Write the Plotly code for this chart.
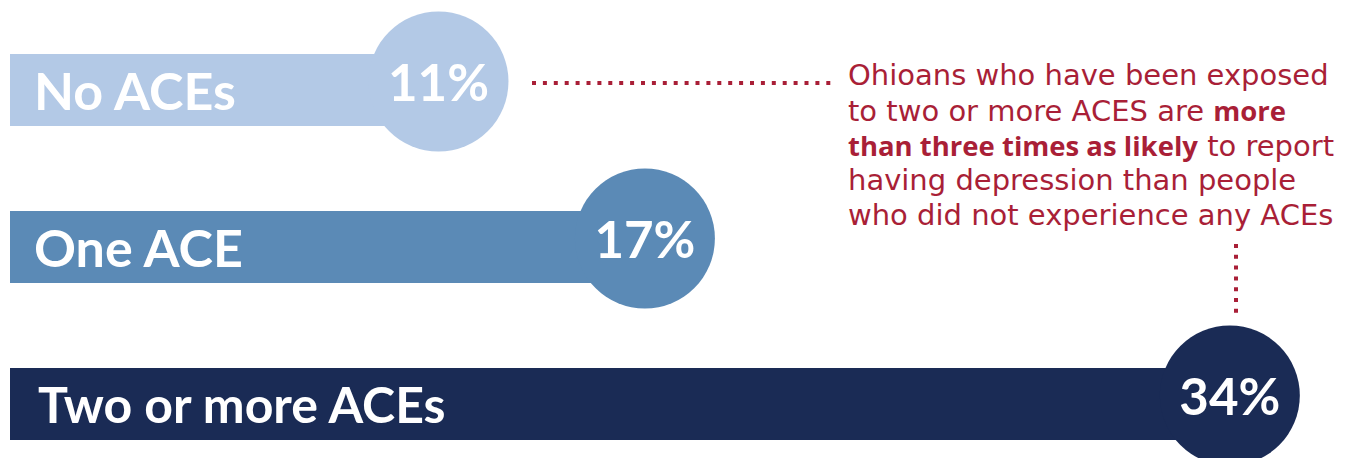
import plotly.graph_objects as go

# ---- data ----
categories = ["No ACEs", "One ACE", "Two or more ACEs"]
values = [11, 17, 34]
value_labels = ["11%", "17%", "34%"]
colors = ["#b3c9e6", "#5b8ab6", "#1a2b55"]
BOLD = '<span style="font-family:\'Open Sans\';font-weight:700;font-size:27.5px">{}</span>'
note_lines = [
    "Ohioans who have been exposed",
    "to two or more ACES are " + BOLD.format("more"),
    BOLD.format("than three times as likely") + " to report",
    "having depression than people",
    "who did not experience any ACEs",
]

W, H = 1353, 458
RED = "#a91f37"

# axis geometry (styling)
X_RANGE = [-1.744, 37.58]
Y_RANGE = [2.341, -0.576]
BAR_BASE = -1.45
BAR_W = 0.459
CIRCLE_DY = -0.057
TEXT_DY = -0.015
LABEL_X = [-0.82, -0.82, -0.70]
LABEL_SIZE = [52, 52, 50]
rows = list(range(len(categories)))

def px(x):
    return x / W

def py(y):
    return 1 - y / H

fig = go.Figure()

fig.add_trace(go.Bar(
    y=rows,
    x=[v - BAR_BASE for v in values],
    base=BAR_BASE,
    orientation="h",
    width=BAR_W,
    marker=dict(color=colors, line=dict(width=0)),
    hoverinfo="skip",
))

fig.add_trace(go.Scatter(
    x=values,
    y=[r + CIRCLE_DY for r in rows],
    mode="markers",
    marker=dict(size=140, color=colors, line=dict(width=0), opacity=1),
    cliponaxis=False,
    hoverinfo="skip",
))

fig.add_trace(go.Scatter(
    x=values,
    y=[r + TEXT_DY for r in rows],
    mode="text",
    text=value_labels,
    textposition="middle center",
    textfont=dict(family="Lato", size=51, color="white", weight="bold"),
    cliponaxis=False,
    hoverinfo="skip",
))

annotations = []
for r, cat, lx, fs in zip(rows, categories, LABEL_X, LABEL_SIZE):
    annotations.append(dict(
        x=lx, y=r, xref="x", yref="y", text=cat, showarrow=False,
        xanchor="left", yanchor="middle",
        font=dict(family="Lato", size=fs, color="white", weight="bold"),
    ))

line_centers = [75, 110, 145, 180, 215]
for t, yc in zip(note_lines, line_centers):
    annotations.append(dict(
        x=px(846), y=py(yc), xref="paper", yref="paper", text=t,
        showarrow=False, xanchor="left", yanchor="middle",
        font=dict(family="DejaVu Sans", size=29, color=RED),
    ))

shapes = [
    dict(type="line", xref="paper", yref="paper",
         x0=px(532), x1=px(833), y0=py(83), y1=py(83),
         line=dict(color=RED, width=4, dash="4px,6.9px")),
    dict(type="line", xref="paper", yref="paper",
         x0=px(1236), x1=px(1236), y0=py(244), y1=py(313),
         line=dict(color=RED, width=4, dash="4px,6.8px")),
]

fig.update_layout(
    width=W, height=H,
    margin=dict(l=0, r=0, t=0, b=0),
    paper_bgcolor="white", plot_bgcolor="white",
    showlegend=False,
    xaxis=dict(range=X_RANGE, visible=False, fixedrange=True),
    yaxis=dict(range=Y_RANGE, visible=False, fixedrange=True),
    annotations=annotations,
    shapes=shapes,
    bargap=0,
)

fig.write_html("out.html")
